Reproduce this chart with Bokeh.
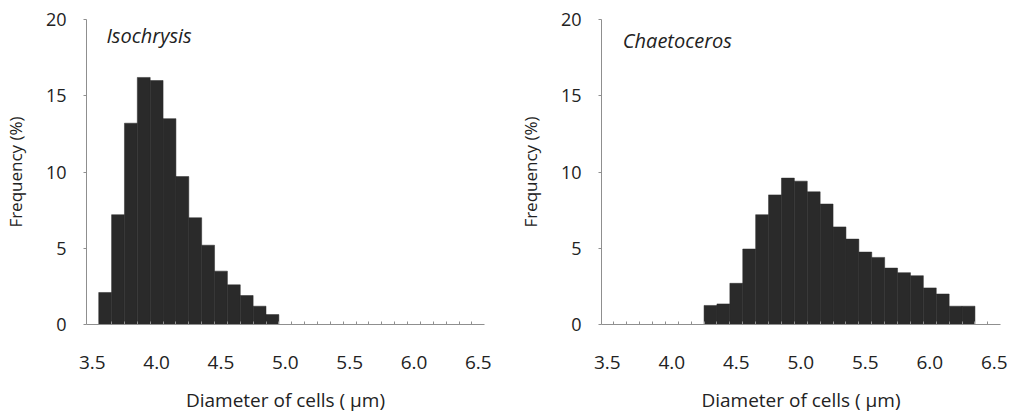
from bokeh.plotting import figure
from bokeh.layouts import row
from bokeh.models import FixedTicker, Range1d, Label
from bokeh.embed import file_html
from bokeh.resources import INLINE

# ---- data ----
iso_name = "Isochrysis"
iso_centers = [3.6, 3.7, 3.8, 3.9, 4.0, 4.1, 4.2, 4.3, 4.4, 4.5, 4.6, 4.7, 4.8, 4.9]
iso_freq = [2.1, 7.2, 13.2, 16.2, 16.0, 13.5, 9.7, 7.0, 5.2, 3.5, 2.6, 1.9, 1.2, 0.65]

chae_name = "Chaetoceros"
chae_centers = [4.3, 4.4, 4.5, 4.6, 4.7, 4.8, 4.9, 5.0, 5.1, 5.2, 5.3,
                5.4, 5.5, 5.6, 5.7, 5.8, 5.9, 6.0, 6.1, 6.2, 6.3]
chae_freq = [1.25, 1.35, 2.7, 4.95, 7.2, 8.5, 9.6, 9.4, 8.7, 7.9, 6.4,
             5.6, 4.75, 4.4, 3.7, 3.4, 3.2, 2.4, 2.0, 1.2, 1.2]

bin_width = 0.1
x_ticks = [3.5, 4.0, 4.5, 5.0, 5.5, 6.0, 6.5]
x_tick_labels = ["3.5", "4.0", "4.5", "5.0", "5.5", "6.0", "6.5"]
bin_edges = [round(3.55 + 0.1 * i, 2) for i in range(30)]
y_ticks = [0, 5, 10, 15, 20]

x_label = "Diameter of cells ( \u03bcm)"
y_label = "Frequency (%)"

FONT = "Open Sans"
BAR = "#2a2a2a"
AXIS = "#8f8f8f"
TEXT = "#222222"


def make_fig(name, centers, freq, border_left, border_right, frame_w, tx, ty):
    p = figure(frame_width=frame_w, frame_height=305,
               min_border_left=border_left, min_border_right=border_right,
               min_border_top=19, min_border_bottom=78,
               x_range=Range1d(3.455, 6.548), y_range=Range1d(0, 20),
               output_backend="svg", toolbar_location=None)
    p.vbar(x=centers, top=freq, width=bin_width, fill_color=BAR,
           line_color=BAR, line_width=0.5)
    p.grid.visible = False
    p.outline_line_color = None

    xa = p.xaxis[0]
    xa.ticker = FixedTicker(ticks=x_ticks, minor_ticks=bin_edges)
    xa.major_label_overrides = {t: l for t, l in zip(x_ticks, x_tick_labels)}
    xa.major_tick_in = 0
    xa.major_tick_out = 0
    xa.minor_tick_in = 3
    xa.minor_tick_out = 0
    xa.minor_tick_line_color = AXIS
    xa.axis_line_color = AXIS
    xa.major_label_standoff = 31
    xa.major_label_text_font = FONT
    xa.major_label_text_font_size = "19px"
    xa.major_label_text_color = TEXT
    xa.axis_label = x_label
    xa.axis_label_standoff = 15
    xa.axis_label_text_font = FONT
    xa.axis_label_text_font_size = "19px"
    xa.axis_label_text_font_style = "normal"
    xa.axis_label_text_color = TEXT

    ya = p.yaxis[0]
    ya.ticker = FixedTicker(ticks=y_ticks)
    ya.major_tick_in = 0
    ya.major_tick_out = 3
    ya.major_tick_line_color = AXIS
    ya.minor_tick_line_color = None
    ya.axis_line_color = AXIS
    ya.major_label_standoff = 17
    ya.major_label_text_font = FONT
    ya.major_label_text_font_size = "18px"
    ya.major_label_text_color = TEXT
    ya.axis_label = y_label
    ya.axis_label_standoff = 16
    ya.axis_label_text_font = FONT
    ya.axis_label_text_font_size = "17px"
    ya.axis_label_text_font_style = "normal"
    ya.axis_label_text_color = TEXT

    p.add_layout(Label(x=tx, y=ty, text=name, text_font=FONT,
                       text_font_style="italic", text_font_size="20px",
                       text_color=TEXT, text_baseline="middle"))
    return p


p1 = make_fig(iso_name, iso_centers, iso_freq, 77, 25, 398, 3.61, 18.95)
p2 = make_fig(chae_name, chae_centers, chae_freq, 92, 9, 399, 3.62, 18.6)

layout = row(p1, p2)
open("out.html", "w").write(file_html(layout, INLINE))
